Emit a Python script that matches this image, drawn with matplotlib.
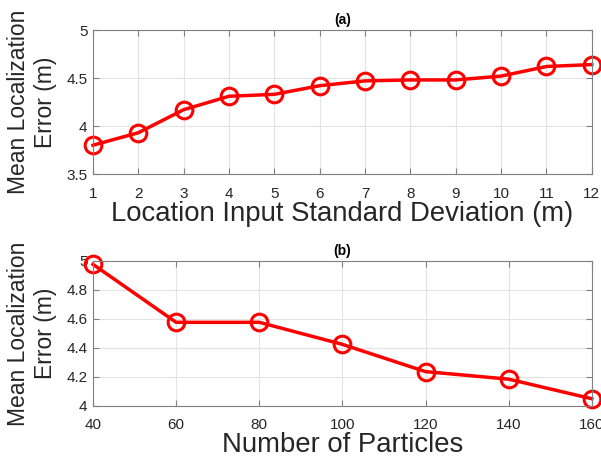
import matplotlib
matplotlib.use("Agg")
import matplotlib.pyplot as plt

plt.rcParams['font.family'] = ['Liberation Sans', 'DejaVu Sans']

std_dev = [1, 2, 3, 4, 5, 6, 7, 8, 9, 10, 11, 12]
err_std = [3.80, 3.93, 4.17, 4.31, 4.33, 4.42, 4.47, 4.48, 4.48, 4.52, 4.62, 4.64]

particles = [40, 60, 80, 100, 120, 140, 160]
err_particles = [4.977, 4.577, 4.577, 4.425, 4.237, 4.185, 4.05]


def style_axes(ax):
    ax.grid(True, color='#e3e3e3', linewidth=0.8)
    ax.set_axisbelow(True)
    for s in ax.spines.values():
        s.set_color('#808080')
        s.set_linewidth(0.8)
    ax.tick_params(direction='in', top=True, right=True, colors='#262626',
                   labelsize=11, length=4, color='#808080')
    ax.tick_params(axis='x', pad=9)
    ax.tick_params(axis='y', pad=4)


fig = plt.figure(figsize=(6.01, 4.59), dpi=100)

ax1 = fig.add_axes([0.1547, 0.6209, 0.830, 0.3137])
ax1.plot(std_dev, err_std, '-o', color='#ff0000', linewidth=2.5,
         markersize=12, markerfacecolor='none', markeredgewidth=2.2, clip_on=False)
ax1.set_xlim(1, 12)
ax1.set_ylim(3.5, 5)
ax1.set_xticks(std_dev)
ax1.set_yticks([3.5, 4, 4.5, 5])
ax1.set_yticklabels(['3.5', '4', '4.5', '5'])
style_axes(ax1)
ax1.set_title('(a)', fontsize=10, fontweight='bold', pad=4)
ax1.set_xlabel('Location Input Standard Deviation (m)', fontsize=19.8, labelpad=0,
               color='#262626')
ax1.set_ylabel('Mean Localization\nError (m)', fontsize=16.5, labelpad=7,
               color='#262626')

ax2 = fig.add_axes([0.1547, 0.1155, 0.830, 0.3159])
ax2.plot(particles, err_particles, '-o', color='#ff0000', linewidth=2.5,
         markersize=12, markerfacecolor='none', markeredgewidth=2.2, clip_on=False)
ax2.set_xlim(40, 160)
ax2.set_ylim(4, 5)
ax2.set_xticks(particles)
ax2.set_yticks([4, 4.2, 4.4, 4.6, 4.8, 5])
ax2.set_yticklabels(['4', '4.2', '4.4', '4.6', '4.8', '5'])
style_axes(ax2)
ax2.set_title('(b)', fontsize=10, fontweight='bold', pad=4)
ax2.set_xlabel('Number of Particles', fontsize=19.8, labelpad=0, color='#262626')
ax2.set_ylabel('Mean Localization\nError (m)', fontsize=16.5, labelpad=7,
               color='#262626')

fig.savefig('out.png', dpi=100)
